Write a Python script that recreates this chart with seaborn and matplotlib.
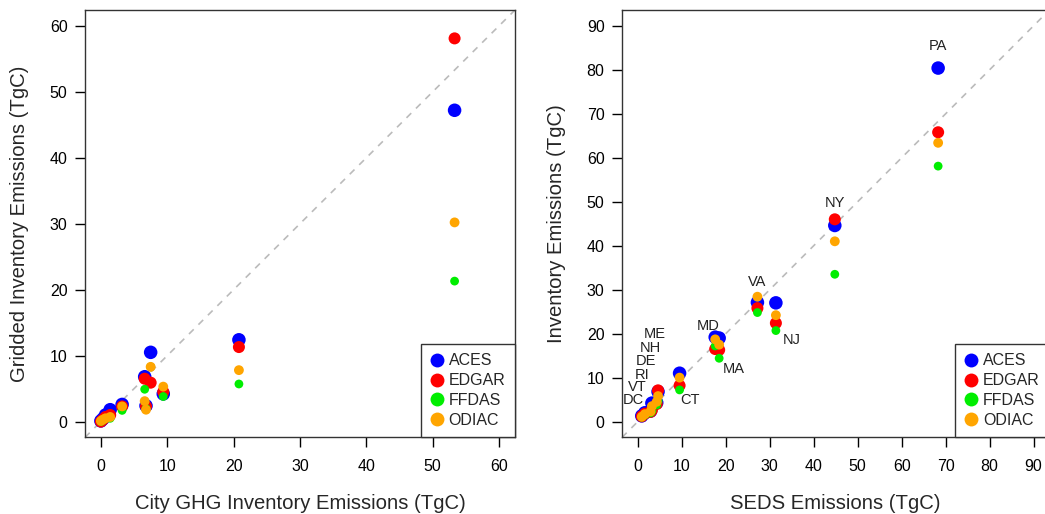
import numpy as np
import pandas as pd
import matplotlib
matplotlib.use("Agg")
import matplotlib.pyplot as plt
from matplotlib.lines import Line2D
import seaborn as sns

inventories = ["ACES", "EDGAR", "FFDAS", "ODIAC"]
colors = {"ACES": "#0000FF", "EDGAR": "#FF0000", "FFDAS": "#00EE00", "ODIAC": "#FFA500"}
sizes = {"ACES": 95, "EDGAR": 75, "FFDAS": 40, "ODIAC": 50}

# left panel: city GHG inventory vs gridded inventories
city_x = [0.0, 0.3, 0.7, 1.4, 3.2, 6.6, 6.8, 7.5, 9.4, 20.8, 53.3]
city_aces = [0.1, 0.4, 1.0, 1.8, 2.6, 6.8, 2.4, 10.5, 4.2, 12.4, 47.2]
city_edgar = [0.0, 0.3, 0.7, 1.0, 2.3, 6.5, 2.3, 5.9, 4.5, 11.3, 58.1]
city_ffdas = [0.0, 0.2, 0.5, 0.5, 1.7, 4.9, 2.0, 8.3, 3.8, 5.7, 21.3]
city_odiac = [0.1, 0.3, 0.5, 0.7, 2.3, 3.1, 1.8, 8.3, 5.3, 7.8, 30.2]

# right panel: SEDS state totals vs inventories
states = ["DC", "VT", "RI", "DE", "NH", "ME", "CT", "MD", "MA", "VA", "NJ", "NY", "PA"]
seds_x = [0.9, 1.6, 2.9, 3.2, 4.3, 4.6, 9.5, 17.6, 18.5, 27.2, 31.4, 44.8, 68.3]
state_aces = [1.3, 2.0, 2.4, 4.2, 4.3, 6.8, 11.0, 19.2, 19.0, 27.1, 27.0, 44.6, 80.4]
state_edgar = [1.2, 1.8, 2.2, 2.6, 4.0, 7.1, 8.2, 16.5, 16.3, 25.8, 22.4, 46.0, 65.8]
state_ffdas = [1.0, 1.5, 2.0, 2.4, 3.8, 4.7, 7.2, 17.2, 14.4, 24.8, 20.7, 33.5, 58.1]
state_odiac = [1.1, 1.7, 2.3, 3.5, 4.5, 5.8, 10.0, 18.7, 17.5, 28.4, 24.2, 41.0, 63.4]

label_x = [-1.0, -0.2, 0.9, 1.9, 2.8, 3.9, 11.9, 15.9, 21.9, 27.2, 34.9, 44.8, 68.3]
label_y = [4.8, 7.8, 10.7, 13.8, 16.7, 20.0, 5.0, 21.8, 11.9, 31.8, 18.6, 49.6, 85.4]


def long_table(x, series):
    rows = []
    for name, vals in zip(inventories, series):
        for xv, yv in zip(x, vals):
            rows.append({"x": xv, "y": yv, "inventory": name})
    return pd.DataFrame(rows)


left_df = long_table(city_x, [city_aces, city_edgar, city_ffdas, city_odiac])
right_df = long_table(seds_x, [state_aces, state_edgar, state_ffdas, state_odiac])

sns.set_style("ticks")
plt.rcParams["font.family"] = ["Liberation Sans", "DejaVu Sans"]

fig = plt.figure(figsize=(10.45, 5.14), dpi=100)
ax1 = fig.add_axes([0.0813, 0.149, 0.4115, 0.8315])
ax2 = fig.add_axes([0.5952, 0.149, 0.409, 0.8315])


def draw(ax, df, lim, ticks, xlabel, ylabel):
    ax.axline((0, 0), slope=1, color="#BBBBBB", lw=1.2, ls=(0, (4, 4)), zorder=1)
    sns.scatterplot(data=df, x="x", y="y", hue="inventory", size="inventory",
                    palette=colors, sizes=sizes, hue_order=inventories,
                    size_order=inventories, edgecolor="none", linewidth=0,
                    legend=False, ax=ax, zorder=3)
    pad = lim * 0.04
    ax.set_xlim(-pad, lim + pad)
    ax.set_ylim(-pad, lim + pad)
    ax.set_xticks(ticks)
    ax.set_yticks(ticks)
    ax.tick_params(direction="out", length=7, width=1, labelsize=11.5, colors="black")
    ax.tick_params(axis="x", pad=8.5)
    ax.tick_params(axis="y", pad=5.5)
    for sp in ax.spines.values():
        sp.set_visible(True)
        sp.set_color("#333333")
        sp.set_linewidth(1)
    ax.set_xlabel(xlabel, fontsize=14.6, labelpad=14.5)
    ax.set_ylabel(ylabel, fontsize=14.6, labelpad=15)
    handles = [Line2D([], [], marker="o", ls="none", markersize=10,
                      markerfacecolor=colors[n], markeredgecolor="none", label=n)
               for n in inventories]
    leg = ax.legend(handles=handles, loc="lower right", borderaxespad=0,
                    frameon=True, fancybox=False, fontsize=11.5,
                    handletextpad=0.35, handlelength=0.8, labelspacing=0.3,
                    borderpad=0.6)
    leg.get_frame().set_edgecolor("#333333")
    leg.get_frame().set_linewidth(1)
    leg.get_frame().set_alpha(1)


draw(ax1, left_df, 60, np.arange(0, 61, 10),
     "City GHG Inventory Emissions (TgC)", "Gridded Inventory Emissions (TgC)")
draw(ax2, right_df, 90, np.arange(0, 91, 10),
     "SEDS Emissions (TgC)", "Inventory Emissions (TgC)")

for s, lx, ly in zip(states, label_x, label_y):
    ax2.text(lx, ly, s, ha="center", va="center", fontsize=10.5, color="#222222")

fig.savefig("out.png", dpi=100)
